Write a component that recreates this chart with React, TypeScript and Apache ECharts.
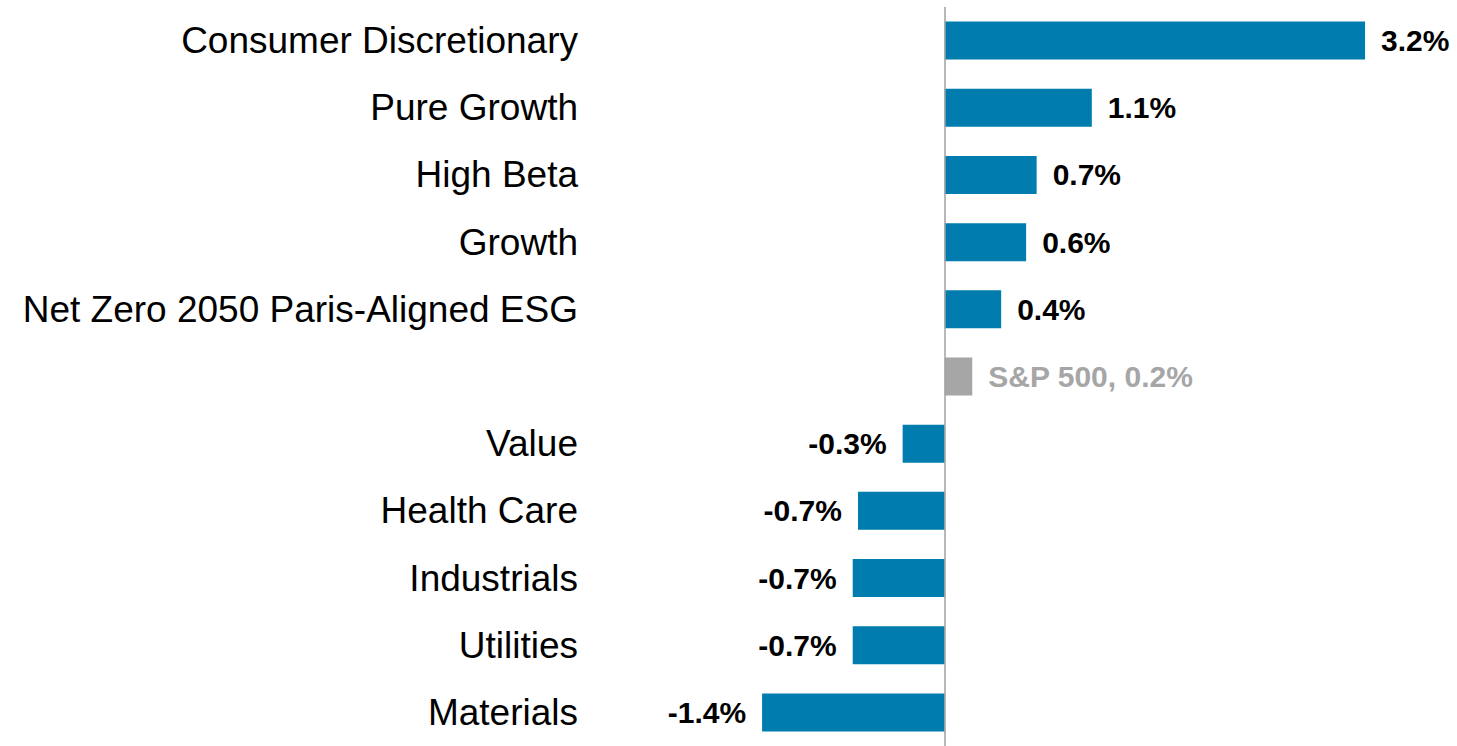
import React, { useEffect, useRef } from "react";
import * as echarts from "echarts";

const categories = [
  "Consumer Discretionary",
  "Pure Growth",
  "High Beta",
  "Growth",
  "Net Zero 2050 Paris-Aligned ESG",
  "",
  "Value",
  "Health Care",
  "Industrials",
  "Utilities",
  "Materials",
];
const values = [3.2, 1.12, 0.7, 0.62, 0.43, 0.21, -0.32, -0.66, -0.7, -0.7, -1.39];
const benchmarkIndex = 5;
const benchmarkName = "S&P 500";

const BLUE = "#007DAE";
const GREY = "#A6A6A6";
const FONT = "'Liberation Sans', Arial, Helvetica, sans-serif";

export default function App() {
  const ref = useRef<HTMLDivElement>(null);
  useEffect(() => {
    if (!ref.current) return;
    const chart = echarts.init(ref.current, null, { renderer: "svg" });
    const data = values.map((v, i) => {
      const isBench = i === benchmarkIndex;
      const txt = v.toFixed(1) + "%";
      return {
        value: v,
        itemStyle: { color: isBench ? GREY : BLUE },
        label: {
          show: true,
          position: v >= 0 ? "right" : "left",
          distance: 16,
          formatter: isBench ? `${benchmarkName}, ${txt}` : txt,
          color: isBench ? GREY : "#000000",
          fontWeight: "bold",
          fontSize: 30,
          fontFamily: FONT,
        },
      };
    });
    chart.setOption({
      animation: false,
      grid: { left: 590, width: 867, top: 7, height: 742, containLabel: false },
      xAxis: {
        type: "value",
        min: -2.7,
        max: 3.9,
        show: false,
        splitLine: { show: false },
      },
      yAxis: {
        type: "category",
        data: categories,
        inverse: true,
        axisLine: { show: false, onZero: false },
        axisTick: { show: false },
        axisLabel: {
          margin: 12,
          fontSize: 37,
          color: "#000000",
          fontFamily: FONT,
        },
      },
      series: [
        {
          type: "bar",
          data,
          barWidth: 38,
          markLine: {
            silent: true,
            symbol: ["none", "none"],
            label: { show: false },
            lineStyle: { color: "#A0A0A0", width: 1.5, type: "solid" },
            data: [{ xAxis: 0 }],
          },
        },
      ],
    });
    return () => chart.dispose();
  }, []);
  return (
    <div
      ref={ref}
      style={{ position: "fixed", left: 0, top: 0, width: 1457, height: 746, background: "#ffffff" }}
    />
  );
}
